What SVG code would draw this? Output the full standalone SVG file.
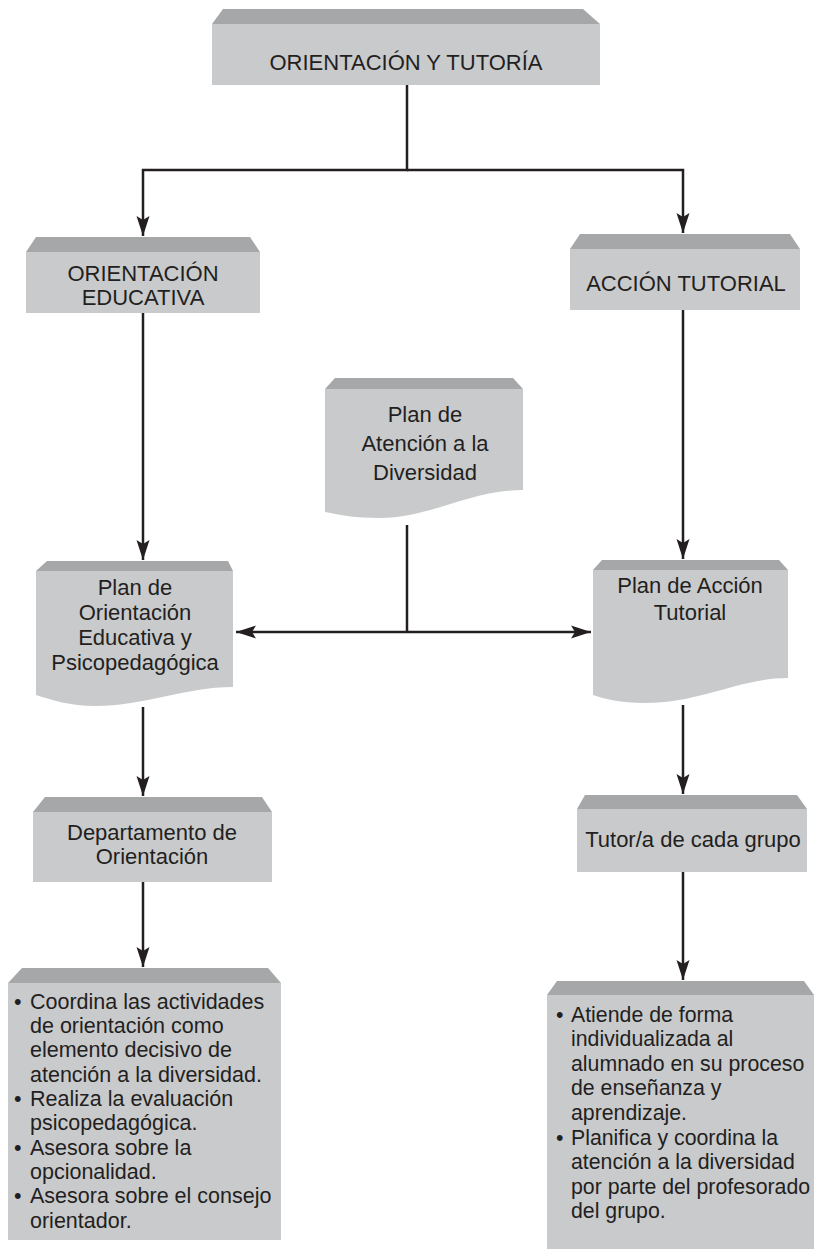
<svg xmlns="http://www.w3.org/2000/svg" width="815" height="1249" viewBox="0 0 815 1249">
<defs>
<style>
.face{fill:#c9cacc}
.bevel{fill:#a6a7a9}
.t{font-family:"Liberation Sans",Arial,sans-serif;font-size:22px;fill:#231f20;text-anchor:middle}
.b{font-family:"Liberation Sans",Arial,sans-serif;font-size:21.5px;fill:#231f20}
.r{font-size:21.3px}
.conn{stroke:#231f20;stroke-width:2.5;fill:none}
</style>
<marker id="ah" markerUnits="userSpaceOnUse" markerWidth="22" markerHeight="14" refX="20" refY="7" orient="auto">
<path d="M0,0.5 L20,7 L0,13.5 L4,7 z" fill="#231f20"/>
</marker>
</defs>
<rect width="815" height="1249" fill="#ffffff"/>

<g id="connectors">
<path class="conn" d="M407,85 V170 H143 V236" marker-end="url(#ah)"/>
<path class="conn" d="M407,170 H683 V233" marker-end="url(#ah)"/>
<path class="conn" d="M143,313 V560" marker-end="url(#ah)"/>
<path class="conn" d="M683,310 V559" marker-end="url(#ah)"/>
<path class="conn" d="M407,525 V632"/>
<path class="conn" d="M407,632 H236" marker-end="url(#ah)"/>
<path class="conn" d="M407,632 H591" marker-end="url(#ah)"/>
<path class="conn" d="M143,707 V796" marker-end="url(#ah)"/>
<path class="conn" d="M683,705 V794" marker-end="url(#ah)"/>
<path class="conn" d="M143,882 V967" marker-end="url(#ah)"/>
<path class="conn" d="M683,872 V980" marker-end="url(#ah)"/>
</g>

<g id="orientacion-tutoria">
<polygon class="bevel" points="223,9 583,9 600,24 212,24"/>
<rect class="face" x="212" y="24" width="388" height="61"/>
<text class="t" x="406" y="70">ORIENTACIÓN Y TUTORÍA</text>
</g>

<g id="orientacion-educativa">
<polygon class="bevel" points="36,237 250,237 260,252 26,252"/>
<rect class="face" x="26" y="252" width="234" height="61"/>
<text class="t" x="143" y="281">ORIENTACIÓN</text>
<text class="t" x="143" y="305">EDUCATIVA</text>
</g>

<g id="accion-tutorial">
<polygon class="bevel" points="580,234 790,234 800,249 570,249"/>
<rect class="face" x="570" y="249" width="230" height="61"/>
<text class="t" x="686" y="291">ACCIÓN TUTORIAL</text>
</g>

<g id="plan-diversidad">
<polygon class="bevel" points="335,378 513,378 523,389 325,389"/>
<path class="face" d="M325,389 H523 V490 C470,490 430,518 380,518 C355,518 340,515 325,512 Z"/>
<text class="t" x="425" y="422">Plan de</text>
<text class="t" x="425" y="451">Atención a la</text>
<text class="t" x="425" y="480">Diversidad</text>
</g>

<g id="plan-orientacion">
<polygon class="bevel" points="47,561 228,561 233,571 36,571"/>
<path class="face" d="M36,571 H233 V687 C185,687 145,706 95,706 C70,706 52,700 36,695 Z"/>
<text class="t" x="135" y="595">Plan de</text>
<text class="t" x="135" y="620">Orientación</text>
<text class="t" x="135" y="645">Educativa y</text>
<text class="t" x="135" y="670">Psicopedagógica</text>
</g>

<g id="plan-accion-tutorial">
<polygon class="bevel" points="602,560 779,560 788,570 593,570"/>
<path class="face" d="M593,570 H788 V678 C740,678 700,703 645,703 C620,703 605,699 593,695 Z"/>
<text class="t" x="690" y="593">Plan de Acción</text>
<text class="t" x="690" y="620">Tutorial</text>
</g>

<g id="departamento">
<polygon class="bevel" points="45,797 262,797 272,812 33,812"/>
<rect class="face" x="33" y="812" width="239" height="70"/>
<text class="t" x="152" y="840">Departamento de</text>
<text class="t" x="152" y="864">Orientación</text>
</g>

<g id="tutor">
<polygon class="bevel" points="585,795 797,795 807,809 577,809"/>
<rect class="face" x="577" y="809" width="230" height="63"/>
<text class="t" x="693" y="847">Tutor/a de cada grupo</text>
</g>

<g id="funciones-orientacion">
<polygon class="bevel" points="22,968 268,968 281,983 8,983"/>
<rect class="face" x="8" y="983" width="273" height="257"/>
<text class="b" x="14" y="1009">•</text>
<text class="b" x="30" y="1009">Coordina las actividades</text>
<text class="b" x="30" y="1033">de orientación como</text>
<text class="b" x="30" y="1057">elemento decisivo de</text>
<text class="b" x="30" y="1082">atención a la diversidad.</text>
<text class="b" x="14" y="1106">•</text>
<text class="b" x="30" y="1106">Realiza la evaluación</text>
<text class="b" x="30" y="1130">psicopedagógica.</text>
<text class="b" x="14" y="1155">•</text>
<text class="b" x="30" y="1155">Asesora sobre la</text>
<text class="b" x="30" y="1179">opcionalidad.</text>
<text class="b" x="14" y="1203">•</text>
<text class="b" x="30" y="1203">Asesora sobre el consejo</text>
<text class="b" x="30" y="1228">orientador.</text>
</g>

<g id="funciones-tutor">
<polygon class="bevel" points="557,981 804,981 814,995 547,995"/>
<rect class="face" x="547" y="995" width="267" height="254"/>
<text class="b r" x="556" y="1022">•</text>
<text class="b r" x="571" y="1022">Atiende de forma</text>
<text class="b r" x="571" y="1046">individualizada al</text>
<text class="b r" x="571" y="1071">alumnado en su proceso</text>
<text class="b r" x="571" y="1095">de enseñanza y</text>
<text class="b r" x="571" y="1120">aprendizaje.</text>
<text class="b r" x="556" y="1145">•</text>
<text class="b r" x="571" y="1145">Planifica y coordina la</text>
<text class="b r" x="571" y="1169">atención a la diversidad</text>
<text class="b r" x="571" y="1194">por parte del profesorado</text>
<text class="b r" x="571" y="1218">del grupo.</text>
</g>
</svg>
